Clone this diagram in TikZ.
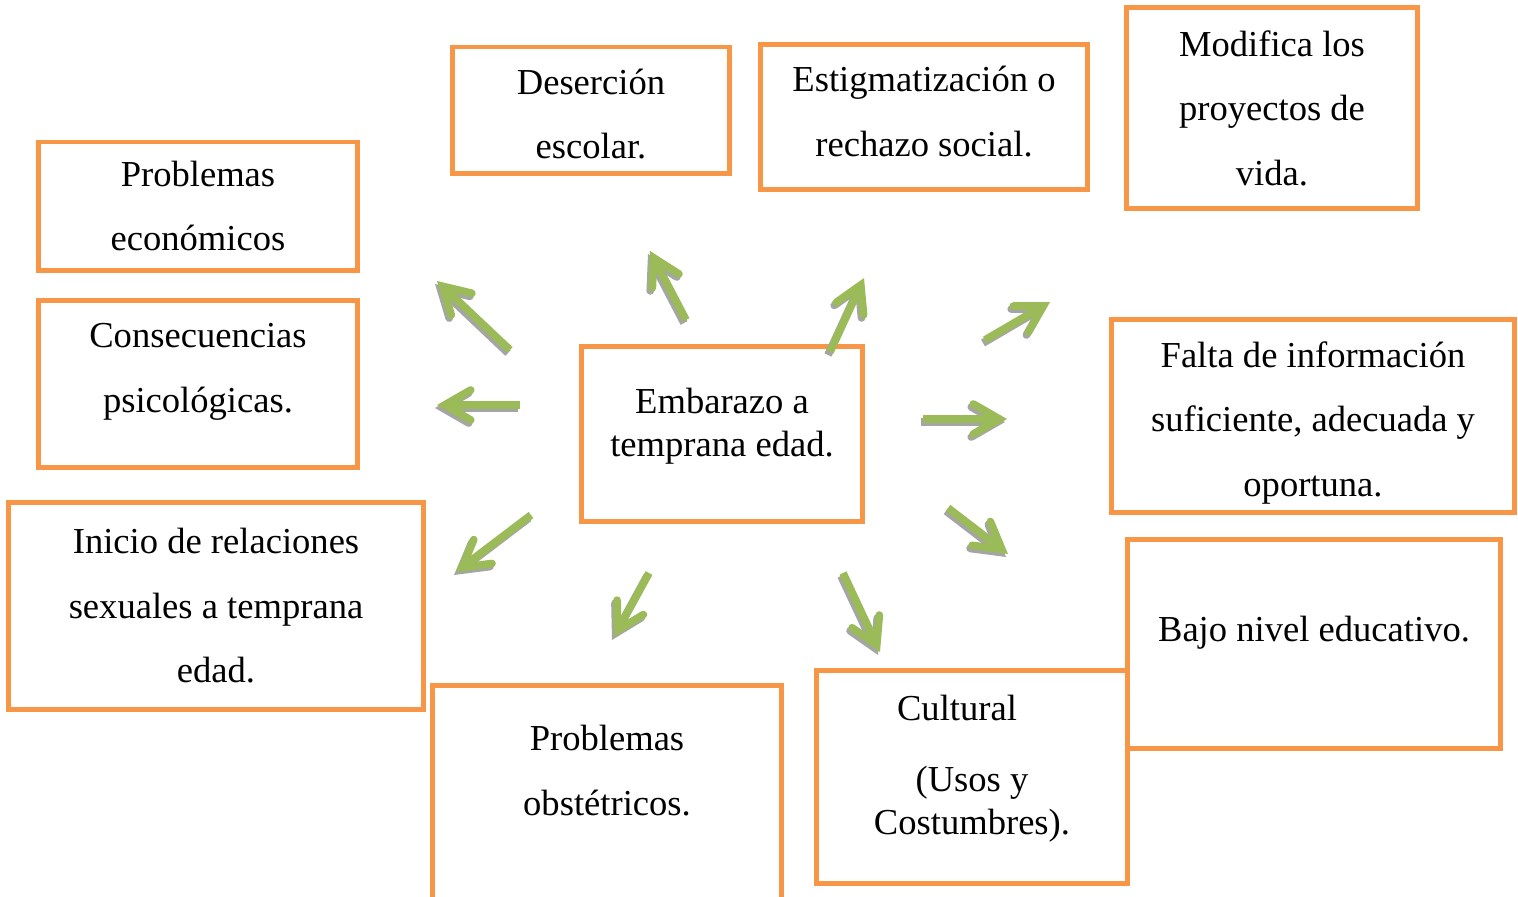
\documentclass[tikz,border=0pt]{standalone}
\usepackage{fontspec}
\setmainfont{Liberation Serif}
\usetikzlibrary{arrows.meta}
\definecolor{boxorange}{HTML}{F79646}
\definecolor{arrowgreen}{HTML}{9BBB59}
\definecolor{shadowgray}{HTML}{A5A5A5}
% invisible struts to set the text a little higher or lower in its box
\newcommand{\padbelow}[1]{\rule[-#1]{0pt}{#1}}
\newcommand{\padabove}[1]{\rule{0pt}{#1}}

\begin{document}
\begin{tikzpicture}[
    x=0.01cm, y=-0.01cm,
    every node/.style={draw=boxorange, line width=1.4pt, fill=white, rectangle, inner sep=0pt, align=center, font=\fontsize{10.4}{18.35}\selectfont},
    tight/.style={font=\fontsize{10.4}{12.2}\selectfont},
    arrow/.style={-{Straight Barb[length=0.26cm, width=0.30cm, line cap=round]}, line width=2.2pt, draw=arrowgreen},
    shade/.style={arrow, draw=shadowgray}
]
\path[use as bounding box, clip] (0,0) rectangle (1518,897);

% boxes
\node[minimum width=2.76cm, minimum height=1.26cm] (desercion) at (591,110) {\padabove{9.5pt}Deserción\\escolar.};
\node[minimum width=3.27cm, minimum height=1.45cm] (estigma) at (924,117) {Estigmatización o\\rechazo social.\padbelow{3.4pt}};
\node[minimum width=2.91cm, minimum height=2.00cm] (modifica) at (1272,108) {Modifica los\\proyectos de\\vida.};
\node[minimum width=3.19cm, minimum height=1.28cm] (economicos) at (198,206) {Problemas\\económicos};
\node[minimum width=3.19cm, minimum height=1.67cm] (psicologicas) at (198,384) {Consecuencias\\psicológicas.\padbelow{9.1pt}};
\node[minimum width=2.81cm, minimum height=1.75cm, tight] (embarazo) at (722,434) {Embarazo a\\temprana edad.\padbelow{6.9pt}};
\node[minimum width=4.03cm, minimum height=1.92cm] (falta) at (1313,416) {\padabove{11.2pt}Falta de información\\suficiente, adecuada y\\oportuna.};
\node[minimum width=4.14cm, minimum height=2.06cm] (inicio) at (216,606) {Inicio de relaciones\\sexuales a temprana\\edad.};
\node[minimum width=3.72cm, minimum height=2.08cm] (bajo) at (1314,644) {Bajo nivel educativo.\padbelow{8.5pt}};
\node[minimum width=3.49cm, minimum height=2.29cm] (obstetricos) at (607,800) {Problemas\\obstétricos.\padbelow{17pt}};
\node[minimum width=3.11cm, minimum height=2.12cm, tight] (cultural) at (972,777) {Cultural\hspace*{0.3cm}\\[0.28cm](Usos y\\Costumbres).\padbelow{7pt}};

% arrows
\coordinate (t1) at (510,350);  \coordinate (h1) at (437,281);
\coordinate (t2) at (520,405);  \coordinate (h2) at (437,405);
\coordinate (t3) at (686,320);  \coordinate (h3) at (650,251);
\coordinate (t4) at (830,352);  \coordinate (h4) at (864,278);
\coordinate (t5) at (985,340);  \coordinate (h5) at (1050,302);
\coordinate (t6) at (923,419);  \coordinate (h6) at (1007,419);
\coordinate (t7) at (948,508);  \coordinate (h7) at (1008,554);
\coordinate (t8) at (843,573);  \coordinate (h8) at (880,652);
\coordinate (t9) at (649,573);  \coordinate (h9) at (614,637);
\coordinate (t10) at (531,515); \coordinate (h10) at (456,572);

\foreach \i in {1,...,10} {
    \draw[shade] ([shift={(-2,3)}]t\i) -- ([shift={(-2,3)}]h\i);
    \draw[arrow] (t\i) -- (h\i);
}
\end{tikzpicture}
\end{document}
